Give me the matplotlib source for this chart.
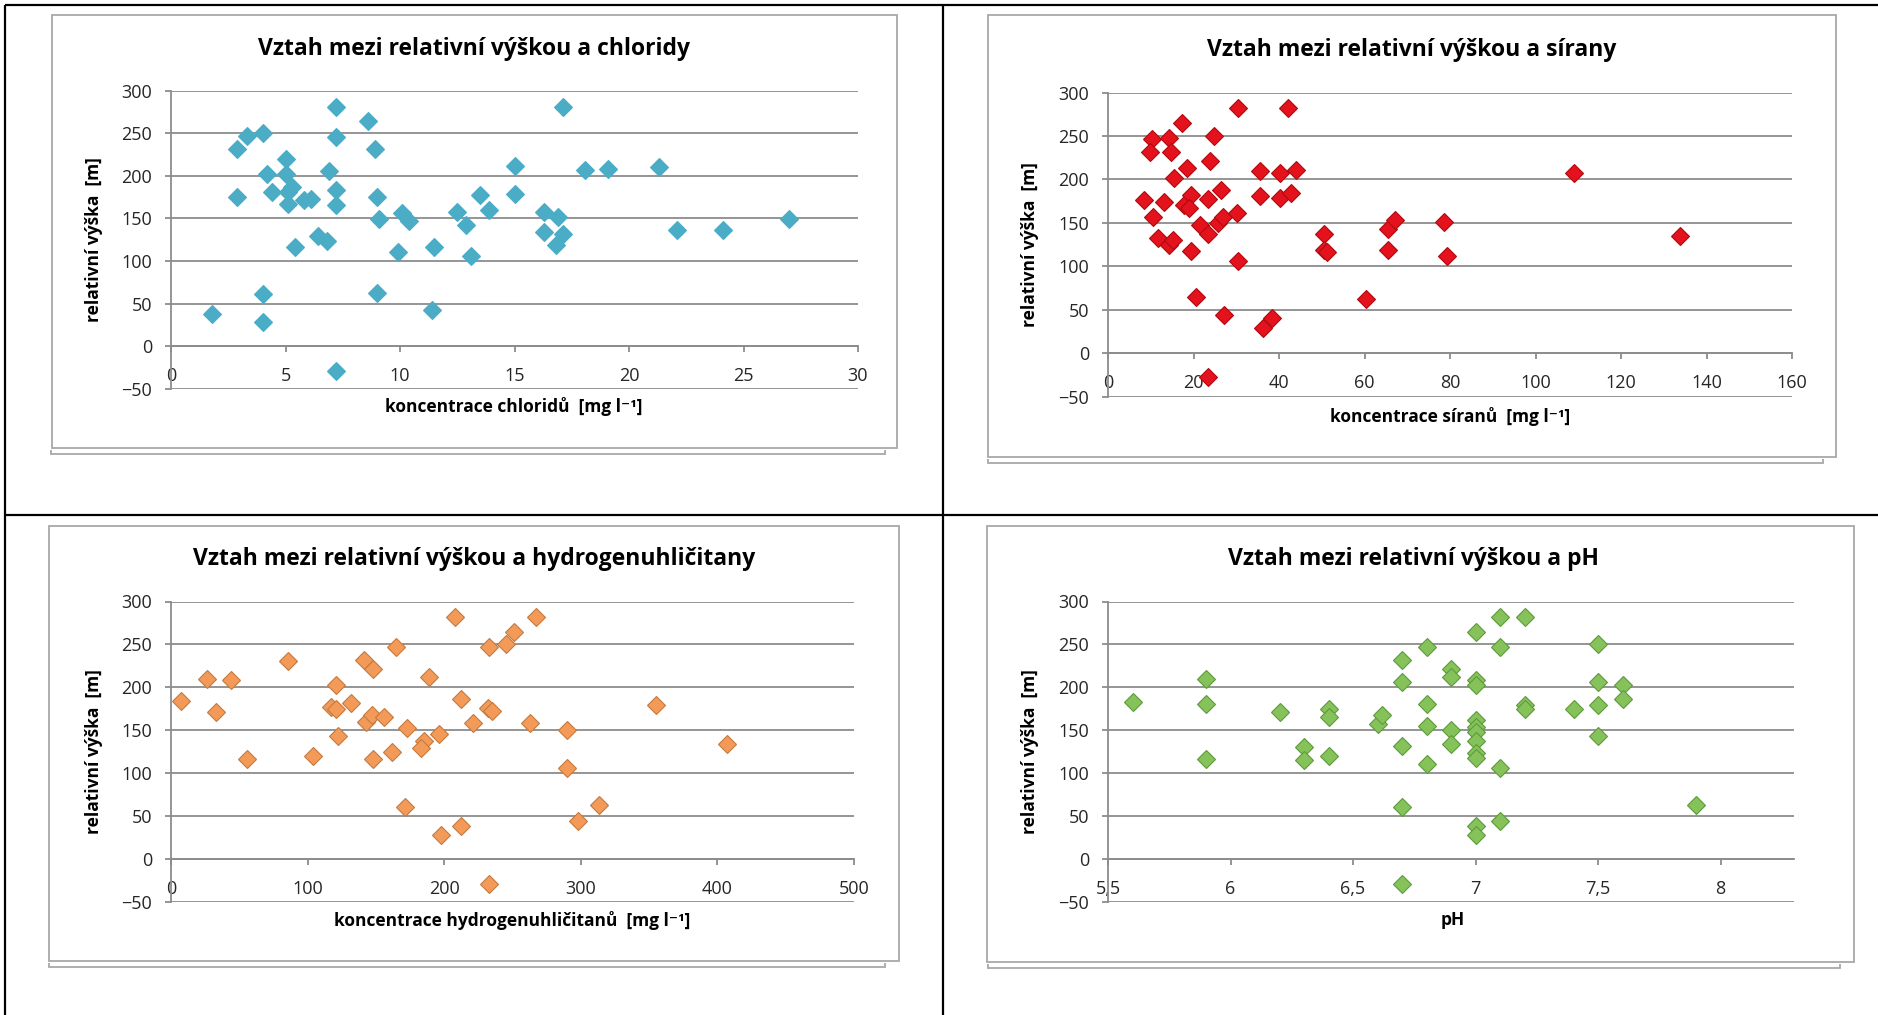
import matplotlib
matplotlib.use("Agg")
import matplotlib.pyplot as plt
from matplotlib.lines import Line2D
from matplotlib.patches import Rectangle
from matplotlib.ticker import FixedLocator, FuncFormatter

# ---------------- data ----------------
chlorid_x = [1.8, 2.9, 2.9, 3.3, 4.0, 4.2, 4.0, 4.0, 4.4, 5.0, 5.0, 5.1, 5.3, 5.1, 5.4,
             5.8, 6.1, 6.4, 6.8, 6.9, 7.2, 7.2, 7.2, 7.2, 7.2, 8.6, 8.9, 9.0, 9.1, 9.0,
             9.9, 10.1, 10.4, 11.5, 11.4, 12.5, 12.9, 13.1, 13.5, 13.9, 15.0, 15.0,
             16.3, 16.3, 16.9, 16.8, 17.1, 17.1, 18.1, 19.1, 21.3, 22.1, 24.1, 27.0]
chlorid_y = [38, 231, 175, 247, 250, 202, 61, 29, 181, 220, 202, 181, 187, 167, 117,
             172, 173, 129, 123, 206, 281, 246, 183, 166, -29, 264, 231, 175, 149, 63,
             111, 156, 147, 116, 43, 158, 142, 106, 178, 160, 211, 179,
             158, 134, 152, 119, 132, 281, 207, 208, 210, 136, 136, 149]

siran_x = [8.5, 10.4, 9.9, 10.6, 11.6, 13.2, 14.2, 14.8, 14.2, 15.3, 15.4, 17.3, 18.4,
           17.8, 19.3, 19.0, 19.3, 20.7, 21.6, 23.5, 23.5, 23.9, 24.8, 23.5, 25.7, 26.5,
           26.8, 27.1, 30.1, 30.5, 30.5, 35.5, 35.5, 36.2, 38.3, 40.2, 40.2, 42.9, 42.0,
           44.0, 50.6, 50.6, 51.3, 60.4, 65.6, 67.2, 65.6, 78.5, 79.2, 109.1, 133.8]
siran_y = [176, 247, 232, 157, 133, 174, 248, 232, 124, 130, 202, 265, 213,
           171, 182, 167, 118, 64, 147, 137, 177, 221, 250, -28, 150, 188,
           157, 44, 161, 282, 106, 210, 181, 29, 40, 207, 179, 184, 282,
           211, 137, 119, 116, 62, 143, 153, 119, 151, 112, 207, 135]

hco3_x = [7, 26, 44, 33, 56, 86, 104, 121, 117, 121, 122, 132, 141, 148, 143, 147, 148,
          156, 162, 165, 173, 171, 185, 183, 189, 196, 198, 208, 212, 212, 221, 233,
          232, 235, 233, 245, 251, 267, 263, 290, 290, 298, 313, 355, 407]
hco3_y = [184, 210, 208, 171, 116, 231, 120, 203, 177, 175, 143, 182, 232, 221, 160, 168, 117,
          166, 125, 247, 153, 61, 137, 129, 212, 146, 28, 282, 187, 38, 158, 247,
          176, 173, -29, 251, 264, 282, 158, 150, 106, 44, 63, 180, 134]

ph_x = [5.6, 5.9, 5.9, 5.9, 6.2, 6.3, 6.3, 6.4, 6.4, 6.4, 6.6, 6.62, 6.7, 6.7, 6.7, 6.7,
        6.7, 6.8, 6.8, 6.8, 6.8, 6.9, 6.9, 6.9, 6.9, 7.0, 7.0, 7.0, 7.0, 7.0, 7.0, 7.0,
        7.0, 7.0, 7.0, 7.0, 7.1, 7.1, 7.1, 7.1, 7.2, 7.2, 7.2, 7.4, 7.5, 7.5, 7.5, 7.5,
        7.6, 7.6, 7.9]
ph_y = [183, 210, 181, 117, 171, 130, 115, 175, 166, 120, 157, 168, 232, 206, 132, 61,
        -29, 247, 181, 155, 111, 221, 212, 150, 134, 264, 208, 203, 162, 154, 148, 138,
        123, 118, 38, 28, 282, 247, 106, 44, 282, 179, 175, 175, 251, 206, 179, 143,
        203, 187, 63]

titles = ["Vztah mezi relativní výškou a chloridy",
          "Vztah mezi relativní výškou a sírany",
          "Vztah mezi relativní výškou a hydrogenuhličitany",
          "Vztah mezi relativní výškou a pH"]
xlabels = ["koncentrace chloridů  [mg l⁻¹]",
           "koncentrace síranů  [mg l⁻¹]",
           "koncentrace hydrogenuhličitanů  [mg l⁻¹]",
           "pH"]
ylabel = "relativní výška  [m]"
y_ticks = [-50, 0, 50, 100, 150, 200, 250, 300]
x_ticks_cl = [0, 5, 10, 15, 20, 25, 30]
x_ticks_so4 = [0, 20, 40, 60, 80, 100, 120, 140, 160]
x_ticks_hco3 = [0, 100, 200, 300, 400, 500]
x_ticks_ph = [5.5, 6.0, 6.5, 7.0, 7.5, 8.0]

# ---------------- layout ----------------
W, H = 1878, 1015
fig = plt.figure(figsize=(W / 100, H / 100), dpi=100)
fig.patch.set_facecolor("white")
FONT = ["Open Sans", "DejaVu Sans"]
plt.rcParams["font.family"] = FONT

def fx(x):
    return x / W

def fy(y):
    return 1 - y / H

def line_px(xs, ys, color="black", lw=1.5):
    fig.add_artist(Line2D([fx(x) for x in xs], [fy(y) for y in ys],
                          transform=fig.transFigure, color=color, lw=lw,
                          solid_capstyle="butt", solid_joinstyle="miter"))

# table borders
line_px([5, W], [5, 5], lw=1.6)
line_px([5, 5], [5, H], lw=1.6)
line_px([943, 943], [5, H], lw=1.6)
line_px([5, W], [515, 515], lw=1.6)

FRAME = "#a8a8a8"
frames = [(52, 15, 897, 448), (988, 15, 1836, 457), (49, 526, 899, 961), (987, 526, 1854, 962)]
brackets = [(51, 885, 454), (988, 1823, 463), (49, 885, 967), (988, 1840, 968)]
for (x0, y0, x1, y1) in frames:
    fig.add_artist(Rectangle((fx(x0), fy(y1)), fx(x1 - x0), (y1 - y0) / H,
                             transform=fig.transFigure, fill=False, ec=FRAME, lw=1.3))
for (x0, x1, y) in brackets:
    line_px([x0, x0, x1, x1], [y - 4, y, y, y - 4], color=FRAME, lw=1.3)

plots = [
    dict(box=(171, 858, 90.5, 389), x=chlorid_x, y=chlorid_y, xlim=(0, 30), xt=x_ticks_cl,
         fc="#4BACC6", ec="#4BACC6", title_xy=(474, 55), xl_xy=(514, 407), yl_x=94),
    dict(box=(1108, 1792, 92.5, 396.5), x=siran_x, y=siran_y, xlim=(0, 160), xt=x_ticks_so4,
         fc="#E3121C", ec="#B00A10", title_xy=(1412, 56), xl_xy=(1450, 416), yl_x=1030),
    dict(box=(171, 854, 601.5, 902), x=hco3_x, y=hco3_y, xlim=(0, 500), xt=x_ticks_hco3,
         fc="#F39A58", ec="#C47A40", title_xy=(474, 565), xl_xy=(512, 920), yl_x=94),
    dict(box=(1108, 1794, 601.5, 902), x=ph_x, y=ph_y, xlim=(5.5, 8.3), xt=x_ticks_ph,
         fc="#86C25A", ec="#5E9A3C", title_xy=(1414, 565), xl_xy=(1453, 920), yl_x=1030),
]

GRID = "#8c8c8c"

def fmt(v, pos):
    s = ("%g" % v)
    return s.replace(".", ",")

for i, p in enumerate(plots):
    x0, x1, yt, yb = p["box"]
    ax = fig.add_axes([fx(x0), fy(yb), fx(x1 - x0), (yb - yt) / H])
    ax.set_facecolor("none")
    ax.set_xlim(*p["xlim"])
    ax.set_ylim(-50, 300)
    ax.yaxis.set_major_locator(FixedLocator(y_ticks))
    ax.xaxis.set_major_locator(FixedLocator(p["xt"]))
    ax.xaxis.set_major_formatter(FuncFormatter(fmt))
    ax.grid(axis="y", color=GRID, lw=1.3)
    ax.set_axisbelow(True)
    for s in ["top", "right"]:
        ax.spines[s].set_visible(False)
    ax.spines["left"].set_color(GRID)
    ax.spines["left"].set_linewidth(1.3)
    ax.spines["bottom"].set_position(("data", 0))
    ax.spines["bottom"].set_color(GRID)
    ax.spines["bottom"].set_linewidth(1.3)
    ax.tick_params(axis="y", length=4.5, width=1.3, color=GRID, pad=9,
                   labelsize=13, labelcolor="#262626")
    ax.tick_params(axis="x", length=4, width=1.3, color=GRID, pad=11,
                   labelsize=13, labelcolor="#262626")
    ax.plot(p["x"], p["y"], linestyle="none", marker="D", ms=9,
            mfc=p["fc"], mec=p["ec"], mew=0.8, zorder=3, clip_on=False)
    tx, ty = p["title_xy"]
    fig.text(fx(tx), fy(ty), titles[i], ha="center", va="baseline",
             fontsize=16.5, fontweight="bold", color="black")
    lx, ly = p["xl_xy"]
    fig.text(fx(lx), fy(ly), xlabels[i], ha="center", va="center",
             fontsize=12.5, fontweight="bold", color="black", family=FONT)
    fig.text(fx(p["yl_x"]), fy((yt + yb) / 2), ylabel, ha="center", va="center",
             rotation=90, fontsize=12.5, fontweight="bold", color="black")

fig.savefig("out.png", dpi=100, facecolor="white")
